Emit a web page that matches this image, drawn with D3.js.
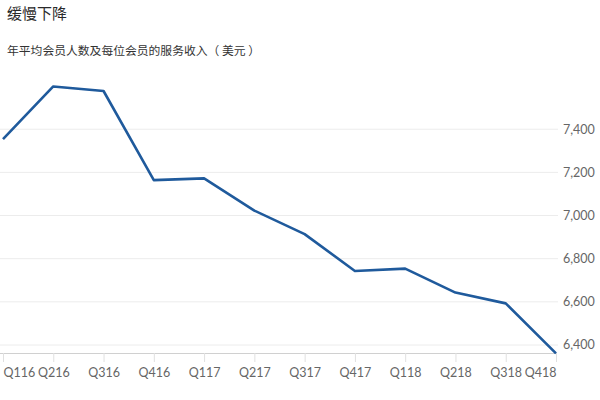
<!DOCTYPE html>
<html>
<head>
<meta charset="utf-8">
<script src="https://cdn.jsdelivr.net/npm/d3@7"></script>
<style>
  body { margin: 0; background: #fff; }
  .titulo { font-family: 'Noto Sans CJK SC', sans-serif; font-size: 15px; fill: #2a2a2a; font-weight: 400; }
  .subtitulo { font-family: 'Noto Sans CJK SC', sans-serif; font-size: 11.8px; fill: #333; }
  .eje text { font-family: Lato, 'Noto Sans', sans-serif; font-size: 12.5px; fill: #666; }
</style>
</head>
<body>
<div id="graf"></div>
<script>
// !DATOS
const trimestres = ['Q116', 'Q216', 'Q316', 'Q416', 'Q117', 'Q217', 'Q317', 'Q417', 'Q118', 'Q218', 'Q318', 'Q418']
const ingresos = [7354, 7598, 7577, 7164, 7172, 7023, 6914, 6743, 6754, 6643, 6593, 6361]
const ticksY = [6400, 6600, 6800, 7000, 7200, 7400]

const anchoTotal = 600
const altoTotal = 400

const svg = d3.select('#graf')
  .append('svg')
  .attr('width', anchoTotal)
  .attr('height', altoTotal)

// !TITULOS
svg.append('text')
  .attr('class', 'titulo')
  .attr('x', 7)
  .attr('y', 19)
  .text('缓慢下降')

svg.append('text')
  .attr('class', 'subtitulo')
  .attr('x', 7)
  .attr('y', 55)
  .text('年平均会员人数及每位会员的服务收入（ 美元 ）')

// !ESCALADORES
const x = d3.scalePoint().domain(trimestres).range([3, 556])
const y = d3.scaleLinear().domain([6363, 7628]).range([353, 80])

// lineas de la cuadricula
const ejeY = svg.append('g').attr('class', 'eje')
ejeY.selectAll('line')
  .data(ticksY)
  .join('line')
  .attr('x1', 0)
  .attr('x2', 558)
  .attr('y1', (d) => y(d))
  .attr('y2', (d) => y(d))
  .attr('stroke', '#ececec')

ejeY.selectAll('text')
  .data(ticksY)
  .join('text')
  .attr('x', 563)
  .attr('y', (d) => y(d))
  .attr('dy', '0.35em')
  .text((d) => d3.format(',')(d))

// eje x
const ejeX = svg.append('g')
  .attr('class', 'eje')
  .attr('transform', `translate(0, ${y.range()[0]})`)
  .call(d3.axisBottom(x).tickSize(9).tickPadding(6))

ejeX.select('.domain')
  .attr('d', 'M0,0.5H557')
  .attr('stroke', '#d0d0d0')
ejeX.selectAll('.tick line').attr('stroke', '#e0e0e0')
ejeX.selectAll('.tick text')
  .attr('text-anchor', (d, i) => i == 0 ? 'start' : i == trimestres.length - 1 ? 'end' : 'middle')

// !LINEA
const linea = d3.line()
  .x((d, i) => x(trimestres[i]))
  .y((d) => y(d))

svg.append('path')
  .datum(ingresos)
  .attr('d', linea)
  .attr('fill', 'none')
  .attr('stroke', '#1f5a9c')
  .attr('stroke-width', 2.6)
  .attr('stroke-linejoin', 'round')
</script>
</body>
</html>
